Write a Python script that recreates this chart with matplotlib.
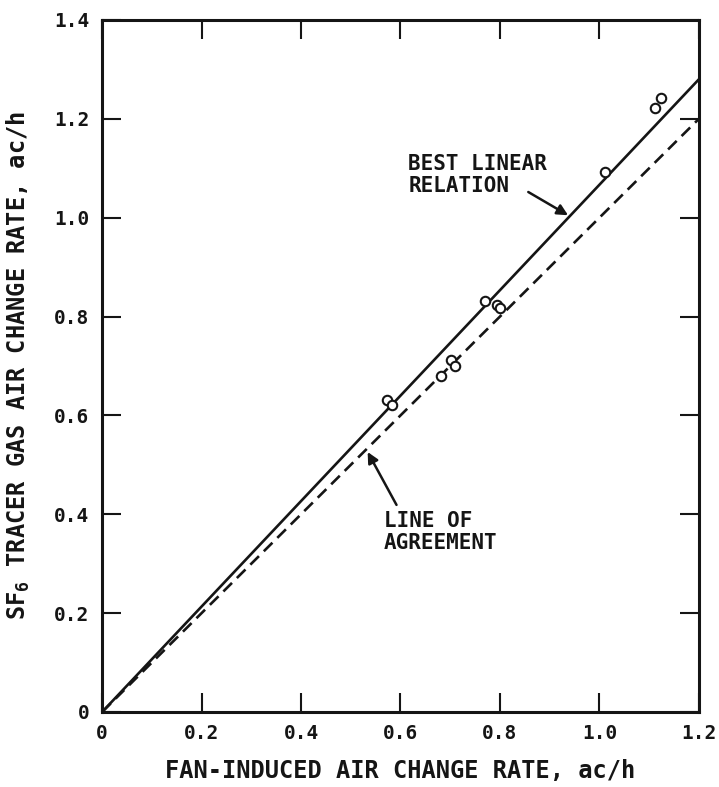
import matplotlib
matplotlib.use("Agg")
import matplotlib.pyplot as plt

# ---- data ----
fan_rate = [0.572, 0.582, 0.682, 0.702, 0.710, 0.770, 0.795, 0.800, 1.011, 1.112, 1.124]
sf6_rate = [0.631, 0.621, 0.680, 0.712, 0.700, 0.831, 0.824, 0.818, 1.092, 1.222, 1.242]
line_x = [0.0, 1.2]
best_fit_y = [0.0, 1.28]
agreement_y = [0.0, 1.2]
x_ticks = [0, 0.2, 0.4, 0.6, 0.8, 1.0, 1.2]
x_tick_labels = ["0", "0.2", "0.4", "0.6", "0.8", "1.0", "1.2"]
y_ticks = [0, 0.2, 0.4, 0.6, 0.8, 1.0, 1.2, 1.4]
y_tick_labels = ["0", "0.2", "0.4", "0.6", "0.8", "1.0", "1.2", "1.4"]
x_label = "FAN-INDUCED AIR CHANGE RATE, ac/h"
y_label = "SF$_6$ TRACER GAS AIR CHANGE RATE, ac/h"
best_label = "BEST LINEAR\nRELATION"
agree_label = "LINE OF\nAGREEMENT"

plt.rcParams["font.family"] = ["DejaVu Sans Mono", "DejaVu Sans"]
plt.rcParams["font.weight"] = "bold"
plt.rcParams["axes.labelweight"] = "bold"
plt.rcParams["mathtext.default"] = "regular"

ink = "#151515"
fig = plt.figure(figsize=(7.19, 7.87), dpi=100)
ax = fig.add_axes([0.142, 0.0953, 0.830, 0.8793])

ax.plot(line_x, best_fit_y, color=ink, lw=1.9, solid_capstyle="butt")
ax.plot(line_x, agreement_y, color=ink, lw=1.9, linestyle=(0, (4.6, 2.6)))
ax.plot(fan_rate, sf6_rate, linestyle="none", marker="o", markersize=6.8,
        markerfacecolor="white", markeredgecolor=ink, markeredgewidth=1.5)

ax.set_xlim(0, 1.2)
ax.set_ylim(0, 1.4)
ax.set_xticks(x_ticks)
ax.set_xticklabels(x_tick_labels)
ax.set_yticks(y_ticks)
ax.set_yticklabels(y_tick_labels)
ax.tick_params(direction="in", length=14, width=1.5, colors=ink, labelsize=14,
               pad=9, top=True, right=True)
for s in ax.spines.values():
    s.set_linewidth(2.2)
    s.set_color(ink)

ax.set_xlabel(x_label, fontsize=17, color=ink, fontweight="bold", labelpad=11)
ax.set_ylabel(y_label, fontsize=17, color=ink, fontweight="bold", labelpad=16)

arrow_kw = dict(arrowstyle="-|>", color=ink, lw=1.8, mutation_scale=16,
                shrinkA=0, shrinkB=0)
ax.text(0.616, 1.087, best_label, fontsize=15, color=ink, fontweight="bold",
        ha="left", va="center", linespacing=1.15)
ax.annotate("", xy=(0.937, 1.005), xytext=(0.857, 1.052), arrowprops=arrow_kw)
ax.text(0.566, 0.364, agree_label, fontsize=15, color=ink, fontweight="bold",
        ha="left", va="center", linespacing=1.15)
ax.annotate("", xy=(0.534, 0.526), xytext=(0.592, 0.419), arrowprops=arrow_kw)

fig.savefig("out.png", dpi=100, facecolor="white")
